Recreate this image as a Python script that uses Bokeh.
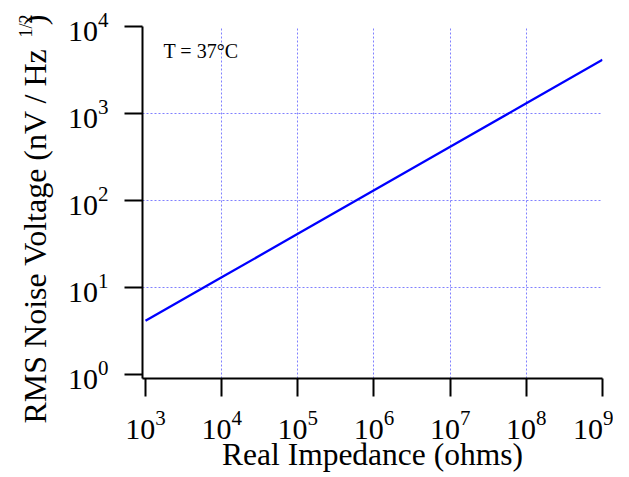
from bokeh.plotting import figure
from bokeh.models import Label, Range1d, ColumnDataSource, Title, FixedTicker
from bokeh.embed import file_html
from bokeh.resources import INLINE

# Data (RMS Johnson noise vs. resistance at 37 C)
impedance_ohms = [1e3, 1e4, 1e5, 1e6, 1e7, 1e8, 1e9]
noise_nv = [4.14, 13.1, 41.4, 131.0, 414.0, 1310.0, 4140.0]
x_ticks = [1e3, 1e4, 1e5, 1e6, 1e7, 1e8, 1e9]
y_ticks = [1e0, 1e1, 1e2, 1e3, 1e4]
x_title = "Real Impedance (ohms)"
y_title_main = "RMS Noise Voltage (nV / Hz\u00a0\u00a0\u00a0)"
y_title_sup = "1/2"
note = "T = 37°C"

FONT = "Liberation Serif"

p = figure(frame_width=460, frame_height=352, x_axis_type="log", y_axis_type="log",
           output_backend="svg", toolbar_location=None,
           min_border_left=142, min_border_right=11, min_border_top=26,
           min_border_bottom=97)
p.x_range = Range1d(10 ** (3 - 3 / 76.17), 1e9)
p.y_range = Range1d(10 ** (-4 / 87.0), 1e4)
p.outline_line_color = None

src = ColumnDataSource(dict(x=impedance_ohms, y=noise_nv))
p.line("x", "y", source=src, line_color="#0000ff", line_width=2.3)

for ax in (p.xaxis[0], p.yaxis[0]):
    ax.axis_line_color = "black"
    ax.axis_line_width = 2
    ax.major_tick_line_color = "black"
    ax.major_tick_line_width = 2
    ax.major_tick_out = 18
    ax.major_tick_in = 0
    ax.minor_tick_line_color = None
    ax.major_label_text_font = FONT
    ax.major_label_text_font_size = "30px"
    ax.major_label_text_color = "black"

p.xaxis[0].ticker = x_ticks
p.yaxis[0].ticker = y_ticks
p.xaxis[0].major_label_standoff = 14
p.yaxis[0].major_label_standoff = 16

p.xaxis[0].axis_label = x_title
p.xaxis[0].axis_label_text_font = FONT
p.xaxis[0].axis_label_text_font_size = "31.5px"
p.xaxis[0].axis_label_text_font_style = "normal"
p.xaxis[0].axis_label_text_color = "black"
p.xaxis[0].axis_label_standoff = -5

p.xgrid[0].ticker = FixedTicker(ticks=x_ticks[1:])
p.ygrid[0].ticker = FixedTicker(ticks=y_ticks[1:])
for g in (p.xgrid[0], p.ygrid[0]):
    g.grid_line_color = "#8080ff"
    g.grid_line_width = 1
    g.grid_line_dash = "2 2"

# y-axis title: main text and superscript as side-panel titles
p.add_layout(Title(text=y_title_main, align="left", offset=-45, vertical_align="bottom",
                   text_font=FONT, text_font_size="32px", text_font_style="normal",
                   text_color="black", standoff=24), "left")
p.add_layout(Title(text=y_title_sup, align="right", offset=-12, vertical_align="bottom",
                   text_font=FONT, text_font_size="18px", text_font_style="normal",
                   text_color="black", standoff=-66), "left")

p.add_layout(Label(x=21, y=328, x_units="screen", y_units="screen",
                   text=note, text_font=FONT, text_font_size="20px",
                   text_align="left", text_baseline="alphabetic", text_color="black"))

open("out.html", "w").write(file_html(p, INLINE))
